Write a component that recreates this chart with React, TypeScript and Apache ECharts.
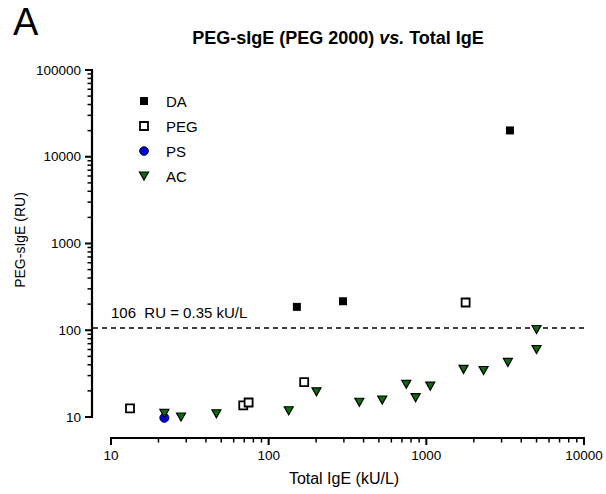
import React, { useEffect, useRef } from "react";
import * as echarts from "echarts";

// ---- data ----
const xTicks = [10, 100, 1000, 10000];
const yTicks = [10, 100, 1000, 10000, 100000];
const daX = [151, 296, 3390];
const daY = [186, 216, 20100];
const pegX = [13.2, 69, 74.6, 168, 1775];
const pegY = [12.6, 13.6, 14.7, 25.3, 209];
const psX = [21.8];
const psY = [9.8];
const acX = [21.8, 27.8, 46.6, 134, 201, 376, 525, 746, 855, 1059, 1722, 2307, 3289, 5000, 5000];
const acY = [11.0, 10.0, 10.9, 11.8, 19.5, 14.8, 15.7, 23.8, 16.7, 22.7, 35.4, 34.4, 42.6, 60, 102];
const threshold = 106;
const thresholdLabel = "106  RU = 0.35 kU/L";
const seriesNames = ["DA", "PEG", "PS", "AC"];

const X_MIN = xTicks[0];
const X_MAX = xTicks[xTicks.length - 1];
const Y_MIN = yTicks[0];
const Y_MAX = yTicks[yTicks.length - 1];

const FONT = "'Liberation Sans', Arial, Helvetica, sans-serif";
const Y_OFFSET = 19;
const X_OFFSET = 21;
const GREEN = "#0b6e0b";
const TRI = "path://M0,0L10,0L5,9Z";

const zip = (xs: number[], ys: number[]) => xs.map((x, i) => [x, ys[i]]);

export default function App() {
  const ref = useRef<HTMLDivElement>(null);
  useEffect(() => {
    if (!ref.current) return;
    const chart = echarts.init(ref.current, null, { renderer: "svg" });

    const axisCommon = {
      type: "log" as const,
      logBase: 10,
      axisLine: { show: false },
      axisTick: { show: false },
      splitLine: { show: false },
      minorTick: { show: false },
      axisLabel: { color: "#000", fontSize: 13.5, fontFamily: FONT, formatter: (v: number) => String(v) },
    };

    const legendGraphics: any[] = [];
    const legendYs = [101, 126, 151, 176];
    const lx = 144;
    legendGraphics.push({ type: "rect", shape: { x: lx - 4, y: legendYs[0] - 4, width: 8, height: 8 }, style: { fill: "#000" } });
    legendGraphics.push({ type: "rect", shape: { x: lx - 4, y: legendYs[1] - 4, width: 8, height: 8 }, style: { fill: "#fff", stroke: "#000", lineWidth: 1.8 } });
    legendGraphics.push({ type: "circle", shape: { cx: lx, cy: legendYs[2], r: 4.3 }, style: { fill: "#0000dd", stroke: "#000033", lineWidth: 1 } });
    legendGraphics.push({ type: "polygon", shape: { points: [[lx - 4.5, legendYs[3] - 4], [lx + 4.5, legendYs[3] - 4], [lx, legendYs[3] + 4]] }, style: { fill: GREEN, stroke: "#000", lineWidth: 1.2 } });
    seriesNames.forEach((n, i) => {
      legendGraphics.push({ type: "text", x: 166, y: legendYs[i], style: { text: n, fill: "#000", font: `15px ${FONT}`, verticalAlign: "middle", align: "left" } });
    });

    const option: any = {
      animation: false,
      grid: { left: 111, right: 22, top: 70, bottom: 77, containLabel: false },
      xAxis: {
        ...axisCommon,
        min: X_MIN,
        max: X_MAX,
        offset: X_OFFSET,
        axisLabel: { ...axisCommon.axisLabel, margin: 10 },
      },
      yAxis: {
        ...axisCommon,
        min: Y_MIN,
        max: Y_MAX,
        offset: Y_OFFSET,
        axisLabel: { ...axisCommon.axisLabel, margin: 11 },
      },
      graphic: [
        { type: "text", x: 13, y: 3, style: { text: "A", fill: "#000", font: `38px ${FONT}` } },
        {
          type: "text",
          x: 338,
          y: 38,
          style: {
            text: "{b|PEG-sIgE (PEG 2000) }{i|vs.}{b| Total IgE}",
            align: "center",
            verticalAlign: "middle",
            rich: {
              b: { font: `bold 18px ${FONT}`, fill: "#000" },
              i: { font: `italic bold 18px ${FONT}`, fill: "#000" },
            },
          },
        },
        { type: "text", x: 20, y: 240, rotation: Math.PI / 2, style: { text: "PEG-sIgE (RU)", fill: "#000", font: `14px ${FONT}`, align: "center", verticalAlign: "middle" } },
        { type: "text", x: 344, y: 478, style: { text: "Total IgE (kU/L)", fill: "#000", font: `16px ${FONT}`, align: "center", verticalAlign: "middle" } },
        ...legendGraphics,
      ],
      series: [
        {
          type: "custom",
          coordinateSystem: "cartesian2d",
          clip: false,
          silent: true,
          data: [[X_MIN, Y_MIN]],
          renderItem: (_params: any, api: any) => {
            const children: any[] = [];
            const origin = api.coord([X_MIN, Y_MIN]);
            const corner = api.coord([X_MAX, Y_MAX]);
            const yAxisX = origin[0] - Y_OFFSET;
            const xAxisY = origin[1] + X_OFFSET;
            const minor = { stroke: "#000", lineWidth: 1.5 };
            const major = { stroke: "#000", lineWidth: 2 };
            const axis = { stroke: "#000", lineWidth: 2.2 };
            // axis lines
            children.push({ type: "line", shape: { x1: yAxisX, y1: corner[1] - 1, x2: yAxisX, y2: origin[1] + 1 }, style: axis });
            children.push({ type: "line", shape: { x1: origin[0] - 1, y1: xAxisY, x2: corner[0] + 1, y2: xAxisY }, style: axis });
            // major ticks
            xTicks.forEach((v) => {
              const px = api.coord([v, Y_MIN])[0];
              children.push({ type: "line", shape: { x1: px, y1: xAxisY, x2: px, y2: xAxisY + 7 }, style: major });
            });
            yTicks.forEach((v) => {
              const py = api.coord([X_MIN, v])[1];
              children.push({ type: "line", shape: { x1: yAxisX, y1: py, x2: yAxisX - 7, y2: py }, style: major });
            });
            // minor ticks
            for (let d = X_MIN; d < X_MAX; d *= 10) {
              for (let k = 2; k <= 9; k++) {
                const px = api.coord([d * k, Y_MIN])[0];
                children.push({ type: "line", shape: { x1: px, y1: xAxisY, x2: px, y2: xAxisY + 4.5 }, style: minor });
              }
            }
            for (let d = Y_MIN; d < Y_MAX; d *= 10) {
              for (let k = 2; k <= 9; k++) {
                const py = api.coord([X_MIN, d * k])[1];
                children.push({ type: "line", shape: { x1: yAxisX, y1: py, x2: yAxisX - 4.5, y2: py }, style: minor });
              }
            }
            const ty = api.coord([X_MIN, threshold])[1];
            const xr = api.coord([X_MAX, threshold])[0];
            children.push({ type: "line", shape: { x1: yAxisX + 1, y1: ty, x2: xr + 1, y2: ty }, style: { stroke: "#000", lineWidth: 1.6, lineDash: [5, 4] } });
            children.push({ type: "text", x: origin[0], y: ty - 16, style: { text: thresholdLabel, fill: "#000", font: `15px ${FONT}`, verticalAlign: "middle", align: "left" } });
            return { type: "group", children };
          },
          z: 1,
        },
        {
          name: seriesNames[0],
          type: "scatter",
          clip: false,
          data: zip(daX, daY),
          symbol: "rect",
          symbolSize: 8,
          itemStyle: { color: "#000", opacity: 1 },
          z: 3,
        },
        {
          name: seriesNames[1],
          type: "scatter",
          clip: false,
          data: zip(pegX, pegY),
          symbol: "rect",
          symbolSize: 8,
          itemStyle: { color: "#fff", borderColor: "#000", borderWidth: 1.8, opacity: 1 },
          z: 3,
        },
        {
          name: seriesNames[2],
          type: "scatter",
          clip: false,
          data: zip(psX, psY),
          symbol: "circle",
          symbolSize: 9,
          itemStyle: { color: "#0000dd", borderColor: "#000033", borderWidth: 1, opacity: 1 },
          z: 3,
        },
        {
          name: seriesNames[3],
          type: "scatter",
          clip: false,
          data: zip(acX, acY),
          symbol: TRI,
          symbolSize: [9, 8],
          itemStyle: { color: GREEN, borderColor: "#000", borderWidth: 1.2, opacity: 1 },
          z: 3,
        },
      ],
    };
    chart.setOption(option);
    return () => chart.dispose();
  }, []);
  return <div ref={ref} style={{ width: 606, height: 494, position: "absolute", left: 0, top: 0 }} />;
}
